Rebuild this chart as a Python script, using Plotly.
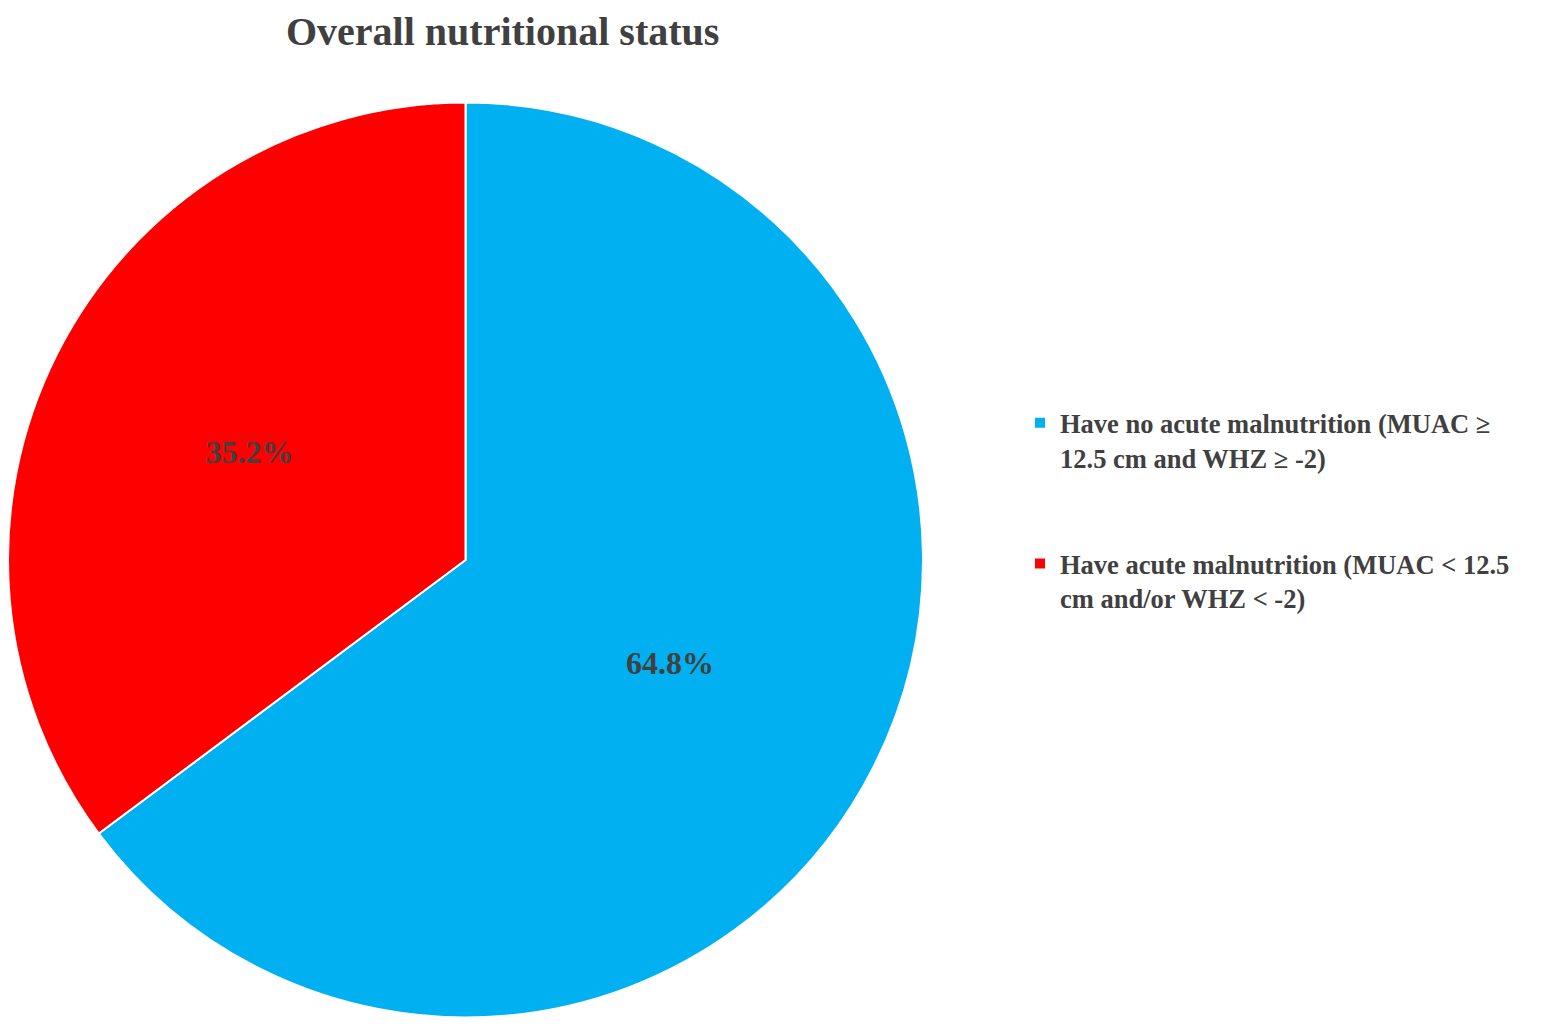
import plotly.graph_objects as go

labels = [
    "Have no acute malnutrition (MUAC ≥<br>12.5 cm and WHZ ≥ -2)",
    "Have acute malnutrition (MUAC < 12.5<br>cm and/or WHZ < -2)",
]
values = [64.8, 35.2]
colors = ["#00B0F0", "#FF0000"]
title_text = "Overall nutritional status"

W, H = 1559, 1027
OFF = 8  # page body margin offset
font_family = "Liberation Serif, Times New Roman, serif"

legend_labels = ["<b>" + t + "</b><br> <br> " for t in labels]

fig = go.Figure(go.Pie(
    labels=legend_labels,
    values=values,
    sort=False,
    direction="clockwise",
    rotation=0,
    marker=dict(colors=colors, line=dict(color="white", width=2)),
    texttemplate="<b>%{value:.1f}%</b>",
    textposition="inside",
    insidetextorientation="horizontal",
    textfont=dict(family=font_family, size=32, color="#404040"),
    hoverinfo="skip",
    domain=dict(x=[0, 915 / W], y=[(H - (1018 - OFF)) / H, (H - (102 - OFF)) / H]),
))

fig.update_layout(
    width=W, height=H,
    margin=dict(l=0, r=0, t=0, b=0),
    paper_bgcolor="white",
    showlegend=True,
    legend=dict(
        x=1012 / W, y=1 - 391 / H, xanchor="left", yanchor="top",
        valign="top",
        font=dict(family=font_family, size=26.5, color="#404040"),
        itemclick=False,
    ),
    annotations=[dict(
        text="<b>" + title_text + "</b>",
        x=(502 - OFF) / W, y=1, xref="paper", yref="paper",
        xanchor="center", yanchor="top", showarrow=False, borderpad=0,
        font=dict(family=font_family, size=40, color="#404040"),
    )],
)

fig.write_html("out.html")
